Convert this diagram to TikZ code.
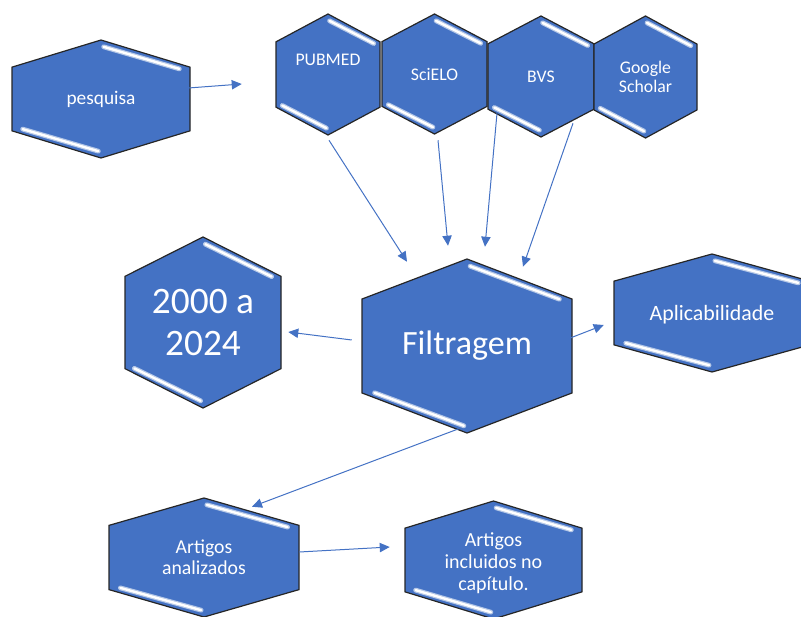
\documentclass[tikz,border=0pt]{standalone}
\usepackage{fontspec}
\setmainfont{Carlito}
\usetikzlibrary{arrows.meta,calc}
\definecolor{hexblue}{HTML}{4472C4}
\definecolor{hexedge}{HTML}{262626}
\definecolor{glow}{HTML}{B4C7E7}
\tikzset{
  hexbody/.style={fill=hexblue, draw=hexedge, line width=0.9pt, line join=miter},
  glintglow/.style={draw=glow, line width=3.6pt, line cap=round},
  glint/.style={draw=white, line width=1.8pt, line cap=round},
  hexarea/.style={rectangle, inner sep=0pt, draw=none},
  hextext/.style={text=white, align=center, inner sep=0pt},
  arrow/.style={-{Triangle[length=7.5pt, width=7pt]}, draw=hexblue, line width=0.75pt},
}
% \hexa{name}{x}{y}{half width}{half height}{text options}{text}
\newcommand{\hexa}[7]{%
  \coordinate (#1-n) at (#2,#3-#5);
  \coordinate (#1-ne) at (#2+#4,#3-0.54*#5);
  \coordinate (#1-se) at (#2+#4,#3+0.54*#5);
  \coordinate (#1-s) at (#2,#3+#5);
  \coordinate (#1-sw) at (#2-#4,#3+0.54*#5);
  \coordinate (#1-nw) at (#2-#4,#3-0.54*#5);
  \path[hexbody] (#1-n) -- (#1-ne) -- (#1-se) -- (#1-s) -- (#1-sw) -- (#1-nw) -- cycle;
  \draw[glintglow] ($(#1-n)!0.03!(#1-ne)+(0,6)$) -- ($(#1-n)!0.88!(#1-ne)+(0,5)$);
  \draw[glint] ($(#1-n)!0.03!(#1-ne)+(0,6)$) -- ($(#1-n)!0.88!(#1-ne)+(0,5)$);
  \draw[glintglow] ($(#1-s)!0.03!(#1-sw)+(0,-6)$) -- ($(#1-s)!0.88!(#1-sw)+(0,-5)$);
  \draw[glint] ($(#1-s)!0.03!(#1-sw)+(0,-6)$) -- ($(#1-s)!0.88!(#1-sw)+(0,-5)$);
  \node[hexarea, minimum width=1.5pt*#4, minimum height=1.5pt*#5] (#1) at (#2,#3) {};
  \node[hextext, #6] (#1-t) at (#2,#3) {#7};
}

\begin{document}
\begin{tikzpicture}[x=0.75pt, y=-0.75pt]
\useasboundingbox (0,0) rectangle (801,617);
\clip (0,0) rectangle (801,617);
% search and sources
\hexa{pesq}{101}{99}{89}{59}{font=\fontsize{14.5}{17}\selectfont}{pesquisa}
\hexa{pubmed}{328}{74.5}{52}{60.5}{font=\fontsize{13.3}{15}\selectfont, yshift=10.9pt}{PUBMED}
\hexa{scielo}{434.5}{74}{52.5}{60}{font=\fontsize{13.3}{15}\selectfont}{SciELO}
\hexa{bvs}{541}{76.5}{53}{60.5}{font=\fontsize{13.3}{15}\selectfont}{BVS}
\hexa{scholar}{645.5}{77}{51.5}{61}{font=\fontsize{13.3}{14.6}\selectfont}{Google\\Scholar}
% filter and criteria
\hexa{filt}{467}{346}{105}{87}{font=\fontsize{25.5}{30}\selectfont}{Filtragem}
\hexa{years}{203}{322.5}{78}{85.5}{font=\fontsize{28}{32}\selectfont}{2000 a\\2024}
\hexa{aplic}{712}{313}{98}{59}{font=\fontsize{16.4}{19}\selectfont, yshift=-1.5pt}{Aplicabilidade}
% results
\hexa{analiz}{204}{557.5}{95}{59.5}{font=\fontsize{14.8}{15.8}\selectfont}{Artigos\\analizados}
\hexa{incl}{493.5}{560}{88.5}{59}{font=\fontsize{15}{16.5}\selectfont, yshift=-2.5pt}{Artigos\\incluidos no\\capítulo.}
% connectors
\draw[arrow] ([shift={(-2,-11)}]pesq.east) -- ([shift={(-34,9.5)}]pubmed.west);
\draw[arrow] ([shift={(1,5)}]pubmed.south) -- ([shift={(-60,3)}]filt.north);
\draw[arrow] ([shift={(3.5,6)}]scielo.south) -- ([shift={(-19,-13)}]filt.north);
\draw[arrow] ([shift={(-44,-24)}]bvs.south) -- ([shift={(18,-12)}]filt.north);
\draw[arrow] ([shift={(-72.5,-15)}]scholar.south) -- ([shift={(56,8)}]filt.north);
\draw[arrow] ([shift={(-10,-6)}]filt.west) -- ([shift={(7,9.5)}]years.east);
\draw[arrow] ([shift={(-2,-8)}]filt.east) -- ([shift={(-10,12)}]aplic.west);
\draw[arrow] ([shift={(-7,-5)}]filt.south) -- ([shift={(48,9)}]analiz.north);
\draw[arrow] ([shift={(0,-5.5)}]analiz.east) -- ([shift={(-15,-13)}]incl.west);
\end{tikzpicture}
\end{document}
